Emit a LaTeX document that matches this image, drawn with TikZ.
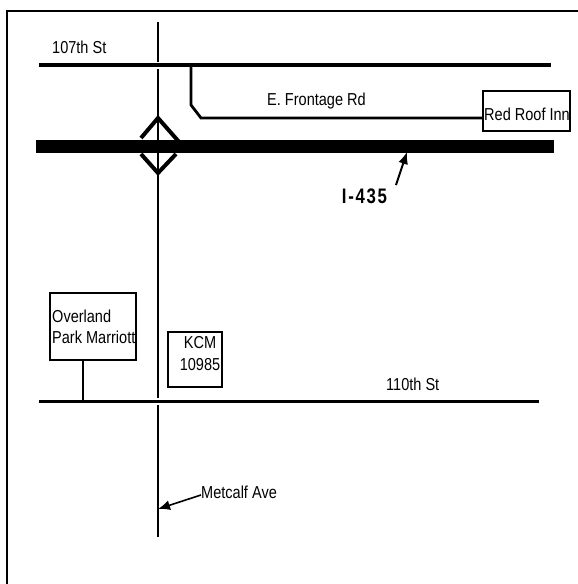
\documentclass[tikz,border=0pt]{standalone}
\usepackage{fontspec}
\setmainfont[FakeStretch=.84]{Liberation Sans}
\newfontfamily\shieldfont[LetterSpace=8,FakeStretch=.8]{Liberation Sans}
\usepackage{xcolor}
\usetikzlibrary{positioning, arrows.meta}

\tikzset{
  road/.style = {line width=2.8pt},
  halo/.style = {white, line width=7pt},
  lotbox/.style = {draw, line width=1.4pt, inner sep=0pt},
  maplabel/.style = {inner sep=0pt, font=\fontsize{17.3}{21.5}\selectfont},
  pointer/.style = {-{Latex[length=12pt,width=10pt]}, line width=2pt}
}

\begin{document}
\begin{tikzpicture}[x=1pt, y=-1pt]
      \useasboundingbox (0,0) rectangle (578,584);

      % Marco
      \draw[line width=2pt] (7,584) -- (7,11) -- (578,11);

      % Metcalf
      \draw[road] (158,22) -- (158,537);

      % Calles
      \draw[halo] (39,65) -- (551,65);
      \draw[road, line width=3.2pt] (39,65) -- (551,65);
      \draw[halo] (39,401.5) -- (539,401.5);
      \draw[road, line width=3.2pt] (39,401.5) -- (539,401.5);

      % Rombo
      \draw[line width=4pt] (141,138) -- (158,118) -- (180,143);
      \draw[line width=4pt] (141,154) -- (158,173) -- (176,154);

      % I-435
      \draw[line width=12.5pt] (36,146.5) coordinate (iwest) -- (554,146.5) coordinate (ieast);
      \coordinate (ihit) at (407,152);

      % Cajas
      \node[lotbox, minimum width=87pt, minimum height=40pt] (redroof) at (526.5,111) {};
      \node[lotbox, minimum width=86pt, minimum height=67pt] (marriott) at (93,326.5) {};
      \node[lotbox, minimum width=54pt, minimum height=55pt] (kcm) at (195,359.5) {};

      % Frontage
      \coordinate (fstart) at (191,66);
      \draw[road] (fstart) -- (191,105) -- (201,118) -- (redroof.west |- 0,118);

      % Marriott a 110th
      \coordinate (mfoot) at (marriott.south -| 83,0);
      \draw[line width=2.8pt] (mfoot) -- (83,400);

      % Textos
      \node[maplabel, anchor=west] (st107) at (52,47.5) {107th St};
      \node[maplabel, anchor=west] (frontage) at (267,101) {E. Frontage Rd};
      \node[maplabel, anchor=center] (redtext) at (527,114) {Red Roof Inn};
      \node[maplabel, anchor=west] (st110) at (386,384) {110th St};
      \node[maplabel, anchor=west, align=left] (marriotttext) at (52,327) {Overland\\Park Marriott};
      \node[maplabel, anchor=center, align=center] (kcmtext) at (200,353.5) {KCM\\10985};
      \node[maplabel, anchor=west] (metcalf) at (201,492) {Metcalf Ave};
      \node[inner sep=0pt, font=\shieldfont\bfseries\fontsize{21}{23}\selectfont] (shield) at (364.5,196) {I-435};

      % Flechas
      \coordinate (ifoot) at (396,185);
      \draw[pointer] (ifoot) -- (ihit);
      \coordinate (mhit) at (158,509);
      \draw[pointer, line width=1.6pt] (metcalf.west) ++(0,3) -- (mhit);
\end{tikzpicture}
\end{document}
